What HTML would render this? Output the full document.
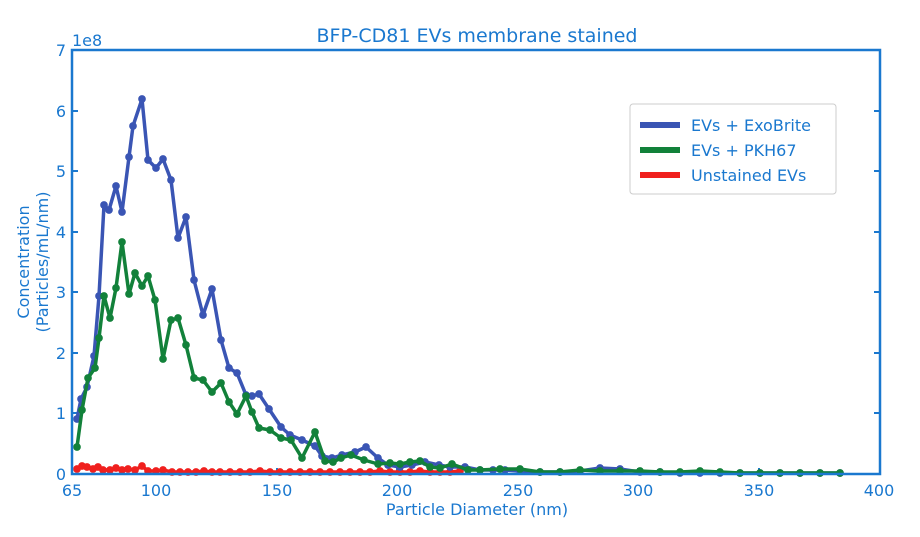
<!DOCTYPE html><html><head><meta charset="utf-8"><style>body{margin:0;background:#fff}svg{display:block}text{font-family:"DejaVu Sans","Liberation Sans",sans-serif;fill:#1a78cf}</style></head><body>
<svg width="920" height="537" viewBox="0 0 920 537">
<text x="477" y="42" font-size="19" text-anchor="middle">BFP-CD81 EVs membrane stained</text>
<g font-size="16" text-anchor="end">
<text x="66" y="480">0</text><text x="66" y="419">1</text><text x="66" y="359">2</text><text x="66" y="298">3</text><text x="66" y="238">4</text><text x="66" y="177">5</text><text x="66" y="117">6</text><text x="66" y="56">7</text></g>
<text x="72" y="46" font-size="16">1e8</text>
<g font-size="16" text-anchor="middle">
<text x="72" y="496">65</text><text x="156" y="496">100</text><text x="277" y="496">150</text><text x="397" y="496">200</text><text x="518" y="496">250</text><text x="638" y="496">300</text><text x="759" y="496">350</text><text x="879" y="496">400</text></g>
<text x="477" y="515" font-size="16" text-anchor="middle">Particle Diameter (nm)</text>
<text transform="translate(29,262) rotate(-90)" font-size="16" text-anchor="middle">Concentration</text>
<text transform="translate(48,262) rotate(-90)" font-size="16" text-anchor="middle">(Particles/mL/nm)</text>
<g stroke="#1a78cf" stroke-width="2">
<line x1="72" y1="413" x2="78" y2="413"/><line x1="72" y1="353" x2="78" y2="353"/><line x1="72" y1="292" x2="78" y2="292"/><line x1="72" y1="232" x2="78" y2="232"/><line x1="72" y1="171" x2="78" y2="171"/><line x1="72" y1="111" x2="78" y2="111"/>
<line x1="874" y1="413" x2="880" y2="413"/><line x1="874" y1="353" x2="880" y2="353"/><line x1="874" y1="292" x2="880" y2="292"/><line x1="874" y1="232" x2="880" y2="232"/><line x1="874" y1="171" x2="880" y2="171"/><line x1="874" y1="111" x2="880" y2="111"/>
<line x1="156" y1="474" x2="156" y2="468"/><line x1="277" y1="474" x2="277" y2="468"/><line x1="397" y1="474" x2="397" y2="468"/><line x1="518" y1="474" x2="518" y2="468"/><line x1="638" y1="474" x2="638" y2="468"/><line x1="759" y1="474" x2="759" y2="468"/>
</g>
<defs><marker id="m1" viewBox="0 0 10 10" refX="5" refY="5" markerWidth="2.2" markerHeight="2.2"><circle cx="5" cy="5" r="5" fill="#3a55b4"/></marker>
<marker id="m2" viewBox="0 0 10 10" refX="5" refY="5" markerWidth="2.2" markerHeight="2.2"><circle cx="5" cy="5" r="5" fill="#12813a"/></marker>
<marker id="m3" viewBox="0 0 10 10" refX="5" refY="5" markerWidth="2.2" markerHeight="2.2"><circle cx="5" cy="5" r="5" fill="#f0201e"/></marker></defs>
<polyline fill="none" stroke="#f0201e" stroke-width="3.5" stroke-linejoin="round" marker-start="url(#m3)" marker-mid="url(#m3)" marker-end="url(#m3)" points="77,469 82,466 87,467 93,469 98,467 103,470 110,470 116,468 122,470 128,469 135,470 142,466 148,471 156,471 163,470 172,472 180,472 188,472 196,472 204,471 212,472 220,472 230,472 240,472 250,472 260,471 270,472 280,472 290,472 300,472 310,472 320,472 330,472 340,472 350,472 360,472 370,472 380,471 390,472 400,472 410,472 420,471 430,472 440,472 450,472 460,471"/>
<polyline fill="none" stroke="#3a55b4" stroke-width="3.5" stroke-linejoin="round" marker-start="url(#m1)" marker-mid="url(#m1)" marker-end="url(#m1)" points="77,419 81,399 87,387 94,356 99,296 104,205 109,210 116,186 122,212 129,157 133,126 142,99 148,160 156,168 163,159 171,180 178,238 186,217 194,280 203,315 212,289 221,340 229,368 237,373 246,395 252,396 259,394 269,409 281,427 290,435 302,440 315,446 322,456 332,458 342,455 355,452 366,447 378,458 388,465 400,467 412,465 425,462 439,465 450,467 465,467 480,470 493,470 505,470 520,471 540,472 560,472 580,471 600,468 620,469 640,472 660,472 680,473 700,473 720,473 740,473 760,473 780,473 800,473 820,473 840,473"/>
<polyline fill="none" stroke="#12813a" stroke-width="3.5" stroke-linejoin="round" marker-start="url(#m2)" marker-mid="url(#m2)" marker-end="url(#m2)" points="77,447 82,410 88,378 95,368 99,338 104,296 110,318 116,288 122,242 129,294 135,273 142,286 148,276 155,300 163,359 171,320 178,318 186,345 194,378 203,380 212,392 221,383 229,402 237,414 246,396 252,412 259,428 270,430 281,438 291,440 302,458 315,432 325,461 333,462 341,458 351,455 364,460 378,464 390,463 400,464 410,462 420,461 430,467 440,468 452,464 468,470 480,470 500,469 520,469 540,472 560,472 580,470 600,471 620,471 640,471 660,472 680,472 700,471 720,472 740,473 760,473 780,473 800,473 820,473 840,473"/>
<rect x="72" y="50" width="808" height="424" fill="none" stroke="#1a78cf" stroke-width="2.5"/>
<rect x="630" y="104" width="206" height="90" fill="#fff" stroke="#ccc" rx="3"/>
<line x1="640" y1="125" x2="680" y2="125" stroke="#3a55b4" stroke-width="6"/>
<line x1="640" y1="150" x2="680" y2="150" stroke="#12813a" stroke-width="6"/>
<line x1="640" y1="175" x2="680" y2="175" stroke="#f0201e" stroke-width="6"/>
<g font-size="16"><text x="691" y="131">EVs + ExoBrite</text><text x="691" y="156">EVs + PKH67</text><text x="691" y="181">Unstained EVs</text></g>
</svg></body></html>
